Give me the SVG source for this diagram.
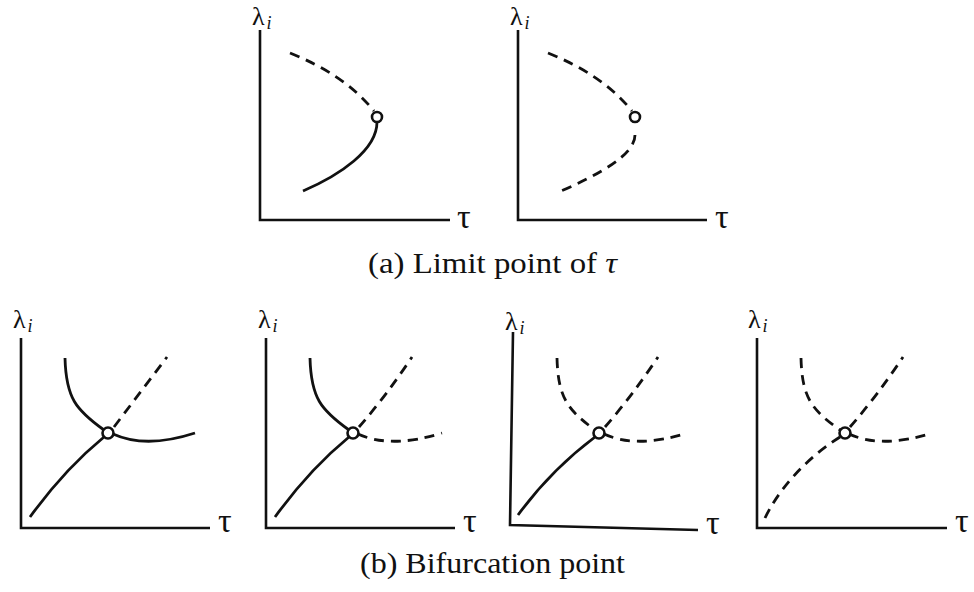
<svg xmlns="http://www.w3.org/2000/svg" width="974" height="592" viewBox="0 0 974 592">
<style>
.ax{fill:none;stroke:#111;stroke-width:2.6}
.s{fill:none;stroke:#111;stroke-width:2.8}
.d{fill:none;stroke:#111;stroke-width:2.8;stroke-dasharray:10 7}
.pt{fill:#fff;stroke:#111;stroke-width:2.6}
.lam{font-family:"Liberation Serif",serif;font-size:26px;fill:#111}
.sub{font-family:"Liberation Serif",serif;font-style:italic;font-size:18px;fill:#111}
.tau{font-family:"Liberation Serif",serif;font-size:34px;fill:#111}
.cap{font-family:"Liberation Serif",serif;font-size:29px;fill:#111}
</style>
<rect width="974" height="592" fill="#fff"/>
<g id="panel-a1" transform="translate(260,220)">
<path class="ax" d="M0,-190 V0 H190"/>
<text class="lam" x="-8" y="-195">λ<tspan class="sub" dx="2" dy="4">i</tspan></text>
<text class="tau" x="197" y="8">τ</text>
<path class="d" d="M30,-167 Q85,-145 114,-109"/>
<path class="s" d="M117,-98 C117,-70 80,-45 43,-29"/>
<circle class="pt" cx="117" cy="-103" r="5"/>
</g>
<g id="panel-a2" transform="translate(518,220)">
<path class="ax" d="M0,-190 V0 H189"/>
<text class="lam" x="-8" y="-195">λ<tspan class="sub" dx="2" dy="4">i</tspan></text>
<text class="tau" x="197" y="8">τ</text>
<path class="d" d="M30,-167 Q85,-145 114,-109"/>
<path class="d" d="M117,-85 C117,-65 80,-45 43,-29"/>
<circle class="pt" cx="117" cy="-103" r="5"/>
</g>
<text id="caption-a" class="cap" x="368" y="273" textLength="249" lengthAdjust="spacingAndGlyphs">(a) Limit point of <tspan font-style="italic">τ</tspan></text>
<g id="panel-b1" transform="translate(21,528)">
<path class="ax" d="M0,-190 V0 H189"/>
<text class="lam" x="-8" y="-200">λ<tspan class="sub" dx="2" dy="4">i</tspan></text>
<text class="tau" x="197" y="4">τ</text>
<path class="s" d="M9,-11 C30,-40 55,-68 83,-91"/>
<path class="s" d="M44,-170 C45,-130 55,-118 83,-98"/>
<path class="d" d="M93,-101 L146,-171"/>
<path class="s" d="M92,-94 Q125,-79 174,-95"/>
<circle class="pt" cx="87" cy="-95" r="5.5"/>
</g>
<g id="panel-b2" transform="translate(266,528)">
<path class="ax" d="M0,-190 V0 H189"/>
<text class="lam" x="-8" y="-200">λ<tspan class="sub" dx="2" dy="4">i</tspan></text>
<text class="tau" x="197" y="4">τ</text>
<path class="s" d="M9,-11 C30,-40 55,-68 83,-91"/>
<path class="s" d="M44,-170 C45,-130 55,-118 83,-98"/>
<path class="d" d="M93,-101 Q120,-132 146,-171"/>
<path class="d" d="M92,-94 Q125,-79 176,-95"/>
<circle class="pt" cx="87" cy="-95" r="5.5"/>
</g>
<g id="panel-b3" transform="translate(512,528)">
<path class="ax" d="M1,-196 L-2,-3 L186,2"/>
<text class="lam" x="-7" y="-198">λ<tspan class="sub" dx="2" dy="4">i</tspan></text>
<text class="tau" x="194" y="6">τ</text>
<path class="s" d="M6,-13 C28,-43 55,-70 83,-91"/>
<path class="d" d="M45,-170 C46,-130 56,-118 83,-98"/>
<path class="d" d="M93,-101 Q120,-132 146,-171"/>
<path class="d" d="M92,-94 Q125,-79 175,-95"/>
<circle class="pt" cx="87" cy="-95" r="5.5"/>
</g>
<g id="panel-b4" transform="translate(757,528)">
<path class="ax" d="M0,-190 V0 H190"/>
<text class="lam" x="-9" y="-200">λ<tspan class="sub" dx="2" dy="4">i</tspan></text>
<text class="tau" x="198" y="4">τ</text>
<path class="d" d="M8,-10 C20,-35 45,-67 83,-91"/>
<path class="d" d="M44,-170 C45,-130 55,-118 83,-98"/>
<path class="d" d="M93,-101 Q120,-132 146,-171"/>
<path class="d" d="M92,-94 Q125,-79 175,-95"/>
<circle class="pt" cx="88" cy="-95" r="5.5"/>
</g>
<text id="caption-b" class="cap" x="360" y="573" textLength="265" lengthAdjust="spacingAndGlyphs">(b) Bifurcation point</text>
</svg>
